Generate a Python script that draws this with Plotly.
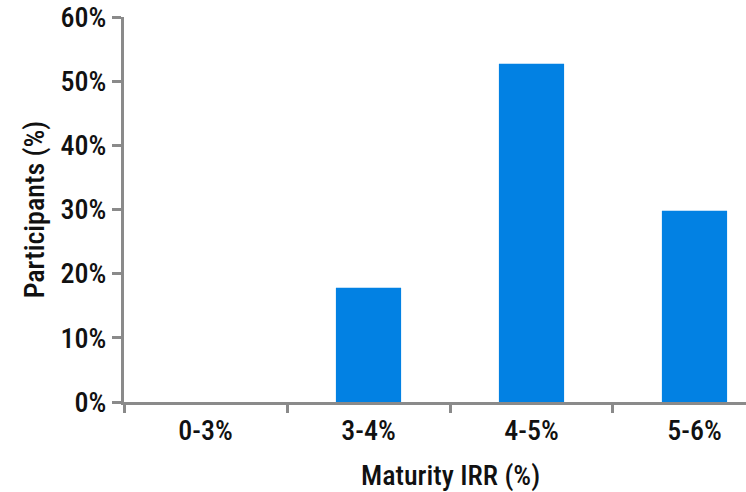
import plotly.graph_objects as go

categories = ["0-3%", "3-4%", "4-5%", "5-6%"]
participants = [0, 17.8, 52.7, 29.8]
y_ticks = [0, 10, 20, 30, 40, 50, 60]
y_tick_labels = ["0%", "10%", "20%", "30%", "40%", "50%", "60%"]

FONT = "Liberation Sans Narrow, Arial Narrow, Roboto Condensed, Liberation Sans, sans-serif"
AXIS_COLOR = "#8a8a8a"
BAR_COLOR = "#0281E3"
TEXT_COLOR = "#111111"
WEIGHT = 500

fig = go.Figure()
fig.add_trace(go.Bar(
    x=categories,
    y=participants,
    width=0.4,
    marker=dict(color=BAR_COLOR, line=dict(width=0)),
))

fig.update_layout(
    width=746,
    height=492,
    margin=dict(l=124, r=0, t=17, b=90),
    paper_bgcolor="white",
    plot_bgcolor="white",
    showlegend=False,
    font=dict(family=FONT, size=28, color=TEXT_COLOR, weight=WEIGHT),
)

fig.update_yaxes(
    range=[0, 60],
    tickmode="array",
    tickvals=y_ticks,
    ticktext=y_tick_labels,
    showgrid=False,
    zeroline=False,
    showline=True,
    linecolor=AXIS_COLOR,
    linewidth=3,
    ticks="outside",
    ticklen=9,
    tickwidth=3,
    tickcolor=AXIS_COLOR,
    ticklabelstandoff=0,
    title=dict(text="Participants (%)", standoff=8,
               font=dict(family=FONT, size=28, color=TEXT_COLOR, weight=WEIGHT)),
)

fig.update_xaxes(
    type="category",
    range=[-0.5, 3.316],
    showgrid=False,
    zeroline=False,
    showline=True,
    linecolor=AXIS_COLOR,
    linewidth=3,
    ticks="outside",
    tickson="boundaries",
    ticklen=8,
    tickwidth=3,
    tickcolor=AXIS_COLOR,
    ticklabelstandoff=1,
)

fig.add_annotation(
    text="Maturity IRR (%)",
    x=1.5, xref="x",
    y=(402 - 475) / 385, yref="paper",
    xanchor="center", yanchor="middle",
    showarrow=False,
    font=dict(family=FONT, size=28, color=TEXT_COLOR, weight=WEIGHT),
)

fig.write_html("out.html")
